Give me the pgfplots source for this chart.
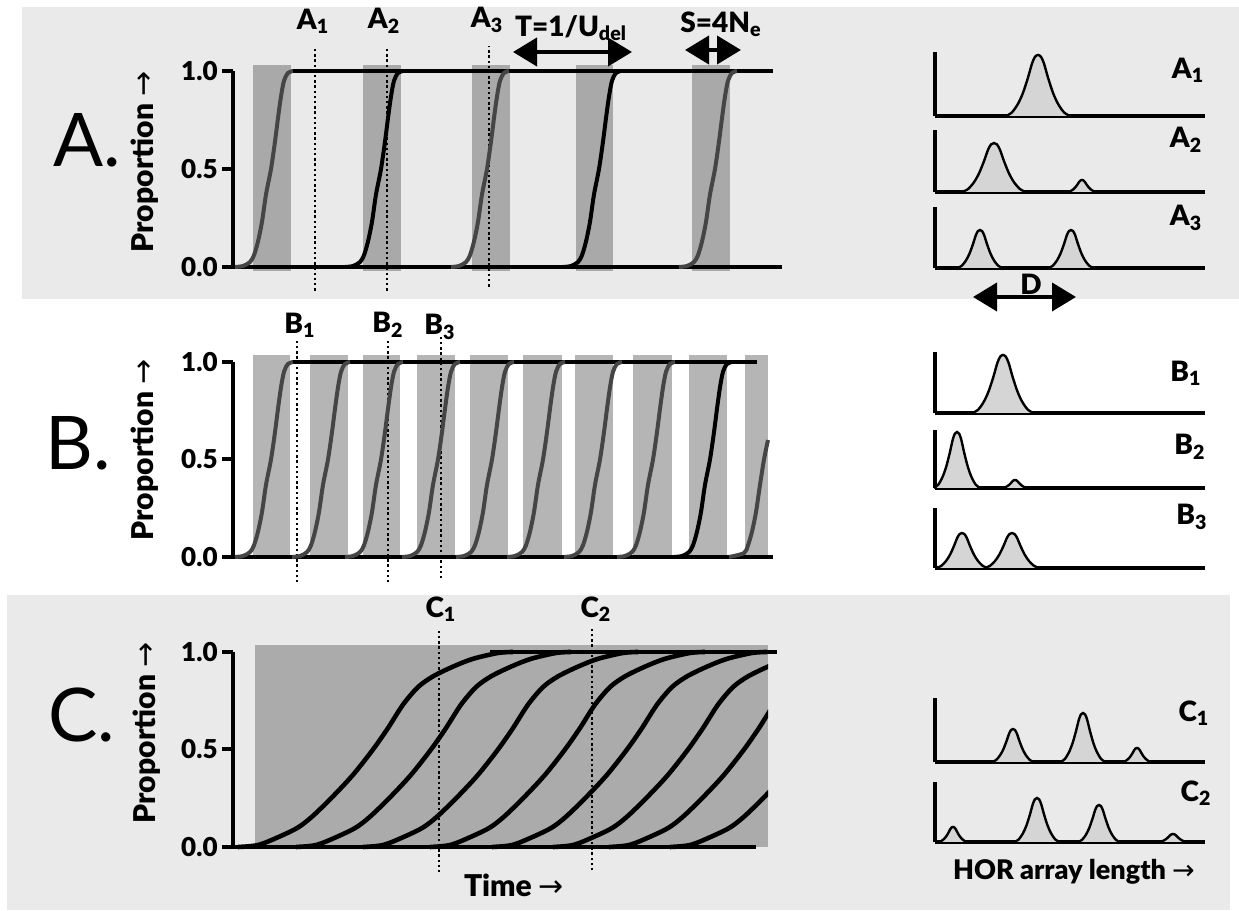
\documentclass[border=0pt]{standalone}
\usepackage{fontspec}
\IfFontExistsTF{Lato Black}
  {\setmainfont{Lato}[BoldFont={Lato Black}]}
  {\setmainfont{Lato}[BoldFeatures={FakeBold=1.2}]}
\newfontfamily\symfont{DejaVu Sans}
\usepackage{pgfplots}
\usepackage{pgfplotstable}
\pgfplotsset{compat=1.18}
\usetikzlibrary{arrows.meta}

\definecolor{panelbg}{HTML}{EAEAEA}
\definecolor{rectA}{HTML}{A9A9A9}
\definecolor{rectB}{HTML}{B5B5B5}
\definecolor{rectC}{HTML}{ABABAB}
\definecolor{curvegray}{HTML}{454545}
\definecolor{peakfill}{HTML}{D5D5D5}

% sharp sweep (panels A, B): offset from 50% point (px), proportion
\pgfplotstableread{
d r
-36 0
-28 0.005
-21 0.025
-17 0.06
-13 0.13
-9 0.23
-5 0.37
0 0.5
4 0.64
7 0.76
10 0.87
13 0.95
17 0.99
22 1.0
}\sharpS

% slow sweep (panel C)
\pgfplotstableread{
d r
-135 0
-115 0.01
-95 0.05
-75 0.10
-60 0.16
-40 0.26
-20 0.37
0 0.5
15 0.61
30 0.73
45 0.82
60 0.875
80 0.925
100 0.965
125 0.995
140 1.0
}\broadS

% array length peak: offset (px), relative height
\pgfplotstableread{
d r
-32 0
-26 0.06
-20 0.2
-15 0.38
-10 0.63
-6 0.86
-3 0.97
0 1
3 0.97
6 0.86
10 0.63
15 0.38
20 0.2
26 0.06
32 0
}\peakshape

\newcommand{\rct}[5]{\addplot[draw=none, fill=#1] coordinates {(#2,#4) (#3,#4) (#3,#5) (#2,#5)} -- cycle;}
\newcommand{\sig}[4]{\addplot[#1, line width=#4, smooth] table[x expr=\thisrow{d}+#2, y=r] {#3};}
\newcommand{\vdot}[3]{\addplot[black, line width=0.9pt, dash pattern=on 1.2pt off 1.4pt] coordinates {(#1,#2) (#1,#3)};}
\newcommand{\peak}[3]{\addplot[fill=peakfill, draw=black, line width=1.2pt, smooth] table[x expr=#1+#3*\thisrow{d}, y expr=#2*\thisrow{r}] {\peakshape};}

\pgfplotsset{
  mainax/.style={scale only axis, width=274.5pt, xmin=233, xmax=782, ymin=0, ymax=1,
    clip=false, anchor=south west,
    axis x line=none, axis y line=left, y axis line style={-, line width=2pt},
    xtick=\empty, ytick={0,0.5,1}, yticklabels={0.0,0.5,1.0},
    major tick style={line width=2pt, black}, major tick length=5.5pt, tick align=outside,
    yticklabel style={font=\bfseries\fontsize{13}{13}\selectfont, inner sep=2pt}},
  smallax/.style={scale only axis, width=135pt, xmin=935, xmax=1205, ymin=0,
    clip=false, anchor=south west,
    axis lines=left, axis line style={-, line width=1.6pt},
    xtick=\empty, ytick=\empty},
}

\begin{document}
\begin{tikzpicture}
\useasboundingbox (0,0) rectangle (619.5pt,455.5pt);
\begin{scope}[x=0.5pt,y=-0.5pt,shift={(0pt,455.5pt)}]
\fill[panelbg] (22,7) rectangle (1239,299);
\fill[panelbg] (7,595) rectangle (1230,910);
\end{scope}

% ---------- panel A ----------
\begin{axis}[mainax, height=98pt, at={(116.5pt,322pt)}]
\rct{rectA}{253}{291}{-0.02}{1.03}
\rct{rectA}{363}{401}{-0.02}{1.03}
\rct{rectA}{472}{510}{-0.02}{1.03}
\rct{rectA}{576}{613}{-0.02}{1.03}
\rct{rectA}{692}{730}{-0.02}{1.03}
\vdot{315}{-0.12}{1.11}
\vdot{387}{-0.12}{1.11}
\vdot{489}{-0.10}{1.13}
\addplot[black, line width=2pt] coordinates {(233,0) (782,0)};
\addplot[black, line width=2pt] coordinates {(292,1) (773,1)};
\sig{curvegray}{271}{\sharpS}{2pt}
\sig{black}{381}{\sharpS}{2pt}
\sig{curvegray}{487}{\sharpS}{2pt}
\sig{black}{599}{\sharpS}{2pt}
\sig{curvegray}{715}{\sharpS}{2pt}
\end{axis}

% ---------- panel B ----------
\begin{axis}[mainax, height=97.5pt, at={(116.5pt,177pt)}]
\rct{rectB}{253}{290}{-0.005}{1.036}
\rct{rectB}{310}{348}{-0.005}{1.036}
\rct{rectB}{363}{400}{-0.005}{1.036}
\rct{rectB}{417}{455}{-0.005}{1.036}
\rct{rectB}{470}{508}{-0.005}{1.036}
\rct{rectB}{523}{562}{-0.005}{1.036}
\rct{rectB}{575}{613}{-0.005}{1.036}
\rct{rectB}{633}{672}{-0.005}{1.036}
\rct{rectB}{689}{727}{-0.005}{1.036}
\rct{rectB}{745}{768}{-0.005}{1.036}
\vdot{297}{-0.13}{1.11}
\vdot{388}{-0.13}{1.11}
\vdot{441}{-0.11}{1.14}
\addplot[black, line width=2pt] coordinates {(233,0) (773,0)};
\addplot[black, line width=2pt] coordinates {(292,1) (757,1)};
\sig{curvegray}{271}{\sharpS}{2pt}
\sig{curvegray}{328}{\sharpS}{2pt}
\sig{curvegray}{381}{\sharpS}{2pt}
\sig{curvegray}{438}{\sharpS}{2pt}
\sig{curvegray}{492}{\sharpS}{2pt}
\sig{curvegray}{543}{\sharpS}{2pt}
\sig{curvegray}{600}{\sharpS}{2pt}
\sig{curvegray}{653}{\sharpS}{2pt}
\sig{black}{710}{\sharpS}{2pt}
\addplot[curvegray, line width=2pt, smooth] coordinates {(729,0) (744,0.02) (748,0.06) (752,0.13) (756,0.23) (760,0.37) (764,0.5) (768,0.6)};
\end{axis}

% ---------- panel C ----------
\begin{axis}[mainax, height=97.5pt, at={(116.5pt,32pt)}]
\rct{rectC}{255}{768}{0}{1.036}
\vdot{439}{-0.13}{1.12}
\vdot{592}{-0.12}{1.13}
\addplot[black, line width=2pt] coordinates {(233,0) (756,0)};
\addplot[black, line width=2pt] coordinates {(490,1) (777,1)};
\begin{scope}
\clip (axis cs:233,-0.2) rectangle (axis cs:768,1.2);
\sig{black}{373}{\broadS}{2.3pt}
\sig{black}{431}{\broadS}{2.3pt}
\sig{black}{498}{\broadS}{2.3pt}
\sig{black}{565}{\broadS}{2.3pt}
\sig{black}{627}{\broadS}{2.3pt}
\sig{black}{688}{\broadS}{2.3pt}
\sig{black}{744}{\broadS}{2.3pt}
\sig{black}{805}{\broadS}{2.3pt}
\end{scope}
\end{axis}

% ---------- array length distributions ----------
\begin{axis}[smallax, ymax=64, height=32pt, at={(467.5pt,397.5pt)}]
\peak{1038}{61}{1.0}
\end{axis}
\begin{axis}[smallax, ymax=62, height=31pt, at={(467.5pt,359.5pt)}]
\peak{994}{49}{1.0}
\peak{1082}{12}{0.45}
\end{axis}
\begin{axis}[smallax, ymax=61, height=30.5pt, at={(467.5pt,321.5pt)}]
\peak{980}{38}{0.7}
\peak{1071}{38}{0.7}
\end{axis}
\begin{axis}[smallax, ymax=61, height=30.5pt, at={(467.5pt,249pt)}]
\peak{1003}{58}{0.95}
\end{axis}
\begin{axis}[smallax, ymax=58, height=29pt, at={(467.5pt,211.5pt)}]
\peak{957}{56}{0.72}
\peak{1015}{8}{0.4}
\end{axis}
\begin{axis}[smallax, ymax=60, height=30pt, at={(467.5pt,171.5pt)}]
\peak{962}{35}{0.8}
\peak{1012}{35}{0.85}
\end{axis}
\begin{axis}[smallax, ymax=64, height=32pt, at={(467.5pt,74.5pt)}]
\peak{1013}{33}{0.65}
\peak{1083}{49}{0.7}
\peak{1137}{14}{0.45}
\end{axis}
\begin{axis}[smallax, ymax=60, height=30pt, at={(467.5pt,34.5pt)}]
\peak{953}{15}{0.45}
\peak{1037}{44}{0.7}
\peak{1099}{37}{0.65}
\peak{1173}{8}{0.45}
\end{axis}

% ---------- labels ----------
\begin{scope}[x=0.5pt,y=-0.5pt,shift={(0pt,455.5pt)},
  lab/.style={font=\bfseries\fontsize{14}{14}\selectfont, inner sep=0pt},
  big/.style={font=\fontsize{37}{37}\selectfont, inner sep=0pt},
  ylab/.style={rotate=90, font=\bfseries\fontsize{15}{15}\selectfont, inner sep=0pt},
  dbl/.style={line width=2pt, {Triangle[length=12pt,width=14pt]}-{Triangle[length=12pt,width=14pt]}}]
\node[big] at (87,140) {A.};
\node[big] at (78,443) {B.};
\node[big] at (82,715) {C.};
\node[ylab] at (145,162) {Proportion {\normalfont\symfont →}};
\node[ylab] at (145,450) {Proportion {\normalfont\symfont →}};
\node[ylab] at (147,733) {Proportion {\normalfont\symfont →}};
\node[lab] at (313,21) {A\textsubscript{1}};
\node[lab] at (384,21) {A\textsubscript{2}};
\node[lab] at (487,20) {A\textsubscript{3}};
\node[lab] at (571,28) {T=1/U\textsubscript{del}};
\node[lab] at (721,24) {S=4N\textsubscript{e}};
\draw[dbl] (513,52) -- (632,52);
\draw[dbl] (685,50) -- (741,50);
\node[lab] at (300,325) {B\textsubscript{1}};
\node[lab] at (388,325) {B\textsubscript{2}};
\node[lab] at (440,327) {B\textsubscript{3}};
\node[lab] at (441,609) {C\textsubscript{1}};
\node[lab] at (596,609) {C\textsubscript{2}};
\node[lab] at (1188,70) {A\textsubscript{1}};
\node[lab] at (1186,140) {A\textsubscript{2}};
\node[lab] at (1186,218) {A\textsubscript{3}};
\node[lab] at (1186,373) {B\textsubscript{1}};
\node[lab] at (1190,447) {B\textsubscript{2}};
\node[lab] at (1192,517) {B\textsubscript{3}};
\node[lab] at (1194,713) {C\textsubscript{1}};
\node[lab] at (1196,793) {C\textsubscript{2}};
\node[lab] at (1031,284) {D};
\draw[dbl] (973,297) -- (1076,297);
\node[font=\bfseries\fontsize{15}{15}\selectfont, inner sep=0pt] at (514,885) {Time {\normalfont\symfont →}};
\node[font=\bfseries\fontsize{13.5}{13.5}\selectfont, inner sep=0pt] at (1074,872) {HOR array length {\normalfont\symfont →}};
\end{scope}
\end{tikzpicture}
\end{document}
